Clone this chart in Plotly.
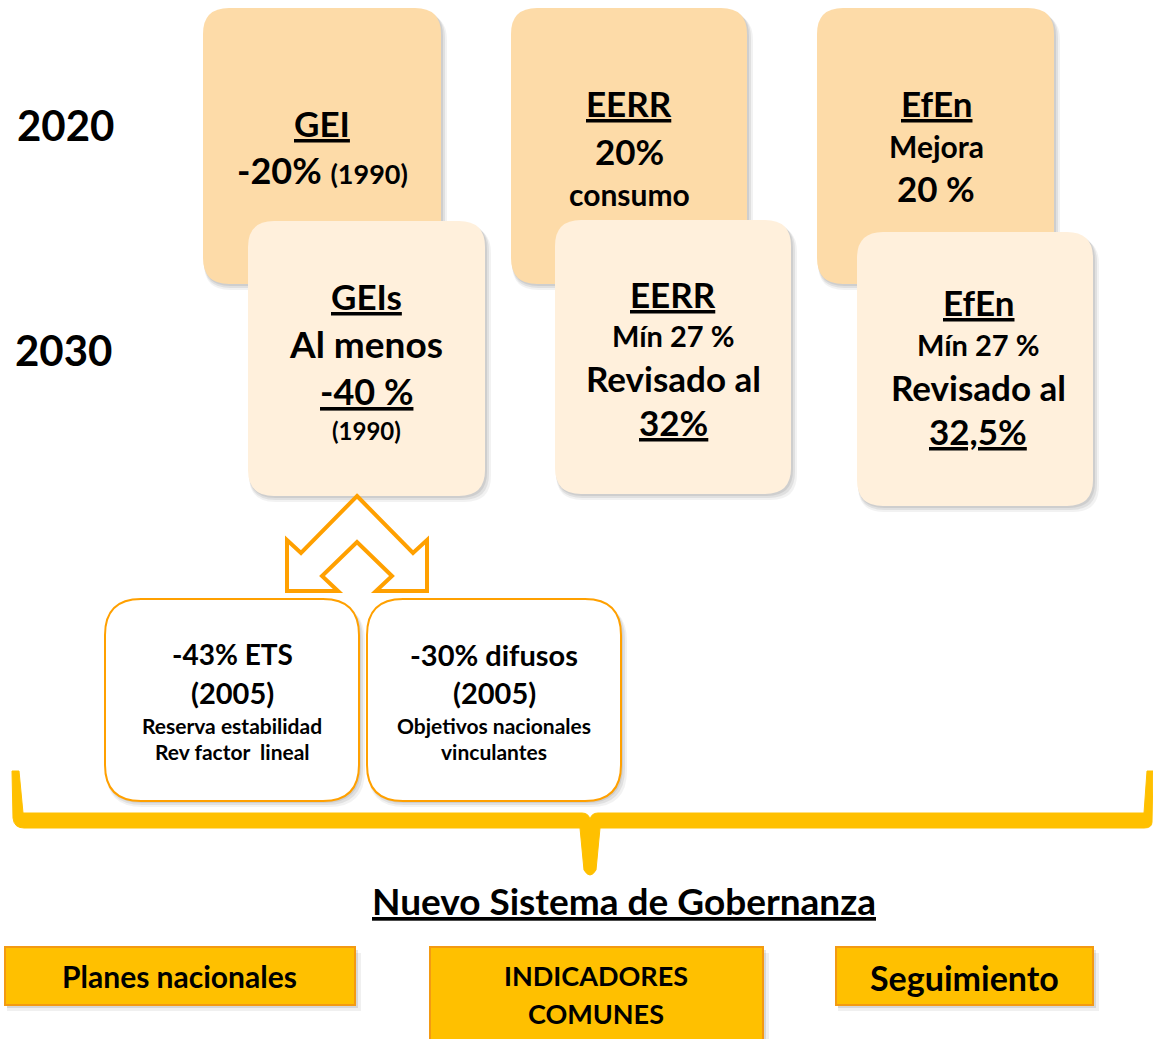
import plotly.graph_objects as go

W, H = 1153, 1039
FONT = "Lato"

# ---- content (text) ----
year_labels = ["2020", "2030"]
box2020_lines = [
    ["<u>GEI</u>", "-20% <span style='font-size:27px'>(1990)</span>"],
    ["<u>EERR</u>", "20%", "consumo"],
    ["<u>EfEn</u>", "Mejora", "20 %"],
]
box2030_lines = [
    ["<u>GEIs</u>", "Al menos", "<u>-40 %</u>", "(1990)"],
    ["<u>EERR</u>", "Mín 27 %", "Revisado al", "<u>32%</u>"],
    ["<u>EfEn</u>", "Mín 27 %", "Revisado al", "<u>32,5%</u>"],
]
sub_lines = [
    ["-43% ETS", "(2005)", "Reserva estabilidad", "Rev factor  lineal"],
    ["-30% difusos", "(2005)", "Objetivos nacionales", "vinculantes"],
]
governance_title = "<u>Nuevo Sistema de Gobernanza</u>"
bottom_lines = [
    ["Planes nacionales"],
    ["INDICADORES", "COMUNES"],
    ["Seguimiento"],
]

# ---- layout geometry (pixels) ----
year_pos = [(65, 127), (63, 352)]
rect2020 = [(203, 8, 441, 284), (511, 8, 747, 284), (817, 8, 1054, 284)]
rect2030 = [(248, 221, 485, 496), (555, 220, 791, 494), (857, 232, 1093, 506)]
text2020 = [
    (322, [125, 172], [35, 36]),
    (629, [105, 153, 196], [35, 35, 30]),
    (936, [105, 148, 190], [35, 30, 35]),
]
text2030 = [
    (366, [298, 345, 393, 432], [35, 37, 36, 24]),
    (673, [296, 337, 380, 424], [35, 29, 35, 35]),
    (978, [304, 346, 389, 433], [35, 29, 35, 35]),
]
rect_sub = [(105, 599, 359, 801), (367, 599, 621, 801)]
text_sub = [
    (232, [656, 694, 727, 753], [28, 29, 21, 21]),
    (494, [656, 694, 727, 753], [29, 29, 21, 21]),
]
rect_bottom = [(5, 947, 355, 1005), (430, 947, 763, 1045), (836, 947, 1093, 1005)]
text_bottom = [
    (179, [978], [30]),
    (596, [977, 1015], [27, 27]),
    (964, [979], [34]),
]
TEXT_SHIFT = 2  # pixels upward

C2020 = "#FDDBA8"
C2030 = "#FFF0DC"
ORANGE = "#FFA000"
GOLD = "#FFC000"


def rrect(x0, y0, x1, y1, r):
    return (f"M {x0+r},{y0} L {x1-r},{y0} Q {x1},{y0} {x1},{y0+r} "
            f"L {x1},{y1-r} Q {x1},{y1} {x1-r},{y1} L {x0+r},{y1} "
            f"Q {x0},{y1} {x0},{y1-r} L {x0},{y0+r} Q {x0},{y0} {x0+r},{y0} Z")


shapes = []
annotations = []


def add_box(rect, r, fill, line_color=None, line_width=0, shadow=True):
    x0, y0, x1, y1 = rect
    if shadow:
        for k, a in ((6, 0.05), (4, 0.07), (2, 0.08)):
            shapes.append(dict(type="path", xref="x", yref="y",
                               path=rrect(x0 + 1, y0 + k, x1 + k, y1 + k, r),
                               fillcolor=f"rgba(0,0,0,{a})", line=dict(width=0)))
    shapes.append(dict(type="path", xref="x", yref="y", path=rrect(x0, y0, x1, y1, r),
                       fillcolor=fill,
                       line=dict(color=line_color or fill, width=line_width)))


def add_text(x, y, text, size):
    annotations.append(dict(x=x, y=y, xref="x", yref="y", text=f"<b>{text}</b>",
                            showarrow=False, xanchor="center", yanchor="middle",
                            yshift=TEXT_SHIFT,
                            font=dict(family=FONT, size=size, color="black")))


for rect in rect2020:
    add_box(rect, 26, C2020)
for rect in rect2030:
    add_box(rect, 26, C2030)

# arrows (double outline arrow)
arrow_path = ("M 357,496 L 413,553 L 427,540 L 427,591 L 376,591 L 392,576 "
              "L 357,542 L 322,576 L 338,591 L 287,591 L 287,540 L 301,553 Z")
shapes.append(dict(type="path", xref="x", yref="y", path=arrow_path,
                   fillcolor="white", line=dict(color=ORANGE, width=4)))

for rect in rect_sub:
    add_box(rect, 36, "white", line_color=ORANGE, line_width=2)

# brace
brace_path = ("M 12,771 L 19,771 L 23,813 L 582,813 Q 589,813 590,820 "
              "Q 591,813 598,813 L 1144,813 L 1147,771 L 1153,771 L 1152,822 "
              "Q 1152,828 1144,828 L 600,828 L 596,870 Q 590,880 584,870 "
              "L 580,828 L 24,828 Q 14,828 13,818 Z")
shapes.append(dict(type="path", xref="x", yref="y", path=brace_path,
                   fillcolor=GOLD, line=dict(color=GOLD, width=1)))

for rect in rect_bottom:
    x0, y0, x1, y1 = rect
    for k, a in ((6, 0.06), (3, 0.1)):
        shapes.append(dict(type="rect", xref="x", yref="y", x0=x0 + 2, y0=y0 + k,
                           x1=x1 + k, y1=y1 + k, fillcolor=f"rgba(0,0,0,{a})",
                           line=dict(width=0)))
    shapes.append(dict(type="rect", xref="x", yref="y", x0=x0, y0=y0, x1=x1, y1=y1,
                       fillcolor=GOLD, line=dict(color="#F39A12", width=2)))

# texts
for lbl, (x, y) in zip(year_labels, year_pos):
    add_text(x, y, lbl, 42)
for lines, (x, ys, ss) in zip(box2020_lines, text2020):
    for t, y, s in zip(lines, ys, ss):
        add_text(x, y, t, s)
for lines, (x, ys, ss) in zip(box2030_lines, text2030):
    for t, y, s in zip(lines, ys, ss):
        add_text(x, y, t, s)
for lines, (x, ys, ss) in zip(sub_lines, text_sub):
    for t, y, s in zip(lines, ys, ss):
        add_text(x, y, t, s)
add_text(624, 902, governance_title, 37)
for lines, (x, ys, ss) in zip(bottom_lines, text_bottom):
    for t, y, s in zip(lines, ys, ss):
        add_text(x, y, t, s)

fig = go.Figure()
fig.update_layout(
    width=W, height=H, margin=dict(l=0, r=0, t=0, b=0),
    paper_bgcolor="white", plot_bgcolor="white",
    xaxis=dict(range=[0, W], visible=False, fixedrange=True),
    yaxis=dict(range=[H, 0], visible=False, fixedrange=True),
    shapes=shapes, annotations=annotations, showlegend=False,
)
fig.write_html(
    "out.html",
    config={"displayModeBar": False},
    post_script="document.body.style.margin='0';document.body.style.overflow='hidden';",
)
